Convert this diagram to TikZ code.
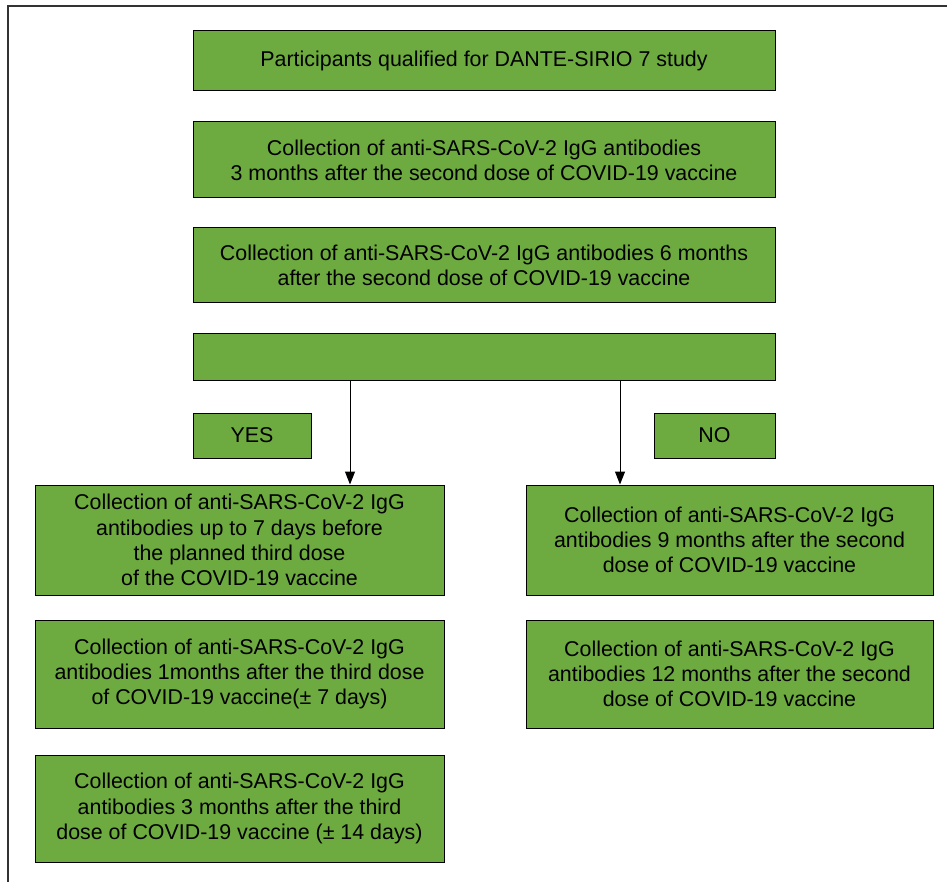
\documentclass[tikz,border=0pt]{standalone}
\usepackage{fontspec}
\setmainfont{Liberation Sans}
\usepackage{tikz}
\usetikzlibrary{arrows.meta}
\definecolor{boxgreen}{RGB}{109,170,63}

\begin{document}
\begin{tikzpicture}[x=0.5pt,y=-0.5pt,
    gbox/.style={draw=black,line width=0.5pt,fill=boxgreen,align=center,inner sep=0pt,
      font=\fontsize{10.7}{12.6}\selectfont},
    arr/.style={-{Triangle[width=5pt,length=6.5pt]},line width=0.5pt}]
  \useasboundingbox (0,0) rectangle (947,882);
  % frame
  \draw[line width=0.8pt,black!80] (947,6) -- (8,6) -- (8,882);
  % top column
  \node[gbox,minimum width=291pt,minimum height=30pt] (start) at (484,61)
    {Participants qualified for DANTE-SIRIO 7 study};
  \node[gbox,minimum width=291pt,minimum height=38pt] (m3) at (484,160)
    {Collection of anti-SARS-CoV-2 IgG antibodies\\3 months after the second dose of COVID-19 vaccine};
  \node[gbox,minimum width=291pt,minimum height=37pt] (m6) at (484,265)
    {Collection of anti-SARS-CoV-2 IgG antibodies 6 months\\after the second dose of COVID-19 vaccine};
  \node[gbox,minimum width=291pt,minimum height=23.5pt] (third) at (484,356.5) {};
  \node[gbox,minimum width=59pt,minimum height=22.5pt] (yes) at (252,435.5) {YES};
  \node[gbox,minimum width=60.5pt,minimum height=22.5pt] (no) at (714.5,435.5) {NO};
  % YES branch
  \node[gbox,minimum width=204.5pt,minimum height=55pt] (before) at (239.5,540)
    {Collection of anti-SARS-CoV-2 IgG\\antibodies up to 7 days before\\the planned third dose\\of the COVID-19 vaccine};
  \node[gbox,minimum width=204.5pt,minimum height=54pt] (after1) at (239.5,674)
    {Collection of anti-SARS-CoV-2 IgG\\antibodies 1months after the third dose\\of COVID-19 vaccine(± 7 days)};
  \node[gbox,minimum width=204.5pt,minimum height=53.5pt] (after3) at (239.5,808.5)
    {Collection of anti-SARS-CoV-2 IgG\\antibodies 3 months after the third\\dose of COVID-19 vaccine (± 14 days)};
  % NO branch
  \node[gbox,minimum width=203.5pt,minimum height=55pt] (m9) at (729.5,540)
    {Collection of anti-SARS-CoV-2 IgG\\antibodies 9 months after the second\\dose of COVID-19 vaccine};
  \node[gbox,minimum width=203.5pt,minimum height=54pt] (m12) at (729.5,674)
    {Collection of anti-SARS-CoV-2 IgG\\antibodies 12 months after the second\\dose of COVID-19 vaccine};
  % arrows
  \draw[arr] ([xshift=-67pt]third.south) -- ([xshift=-67pt]third.south |- before.north);
  \draw[arr] ([xshift=68pt]third.south) -- ([xshift=68pt]third.south |- m9.north);
\end{tikzpicture}
\end{document}
